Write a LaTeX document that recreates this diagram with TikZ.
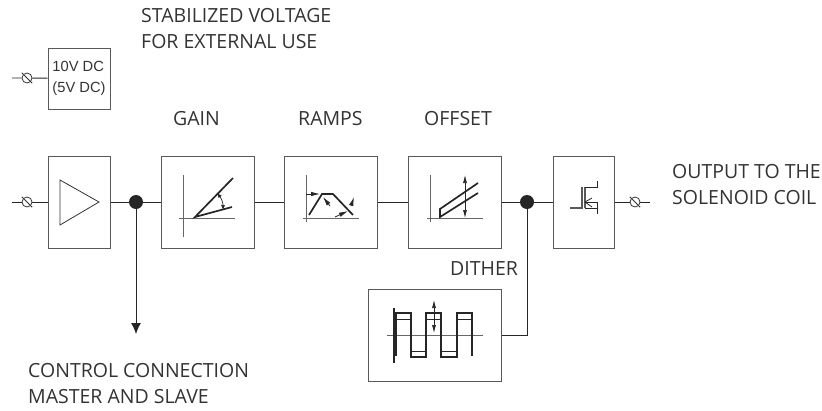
\documentclass[tikz,border=0pt]{standalone}
\usepackage{fontspec}
\setmainfont{Open Sans}
\newfontfamily\boxfont{Liberation Sans}
\usetikzlibrary{arrows.meta}
\definecolor{boxgray}{gray}{0.35}
\definecolor{textgray}{gray}{0.2}
\tikzset{
  blockbox/.style={draw=boxgray,line width=1pt,inner sep=0pt},
  junction/.style={circle,fill=black!85,inner sep=0pt,minimum size=14pt},
  terminal/.style={circle,draw=black!80,line width=0.8pt,inner sep=0pt,minimum size=10pt},
  label/.style={anchor=west,inner sep=0pt,text=textgray,font=\fontsize{19.5}{26}\selectfont,align=left},
  wire/.style={draw=black!85,line width=0.9pt},
  trace/.style={black!85,line width=1.7pt},
  axisline/.style={black!60,line width=0.9pt},
  updown/.style={black!85,line width=0.7pt,{Latex[length=8pt,width=4pt]}-{Latex[length=8pt,width=4pt]}},
  tick/.style={black!85,line width=0.8pt,-{Latex[length=9pt,width=4.5pt]}}
}
\begin{document}
\begin{tikzpicture}[x=1pt,y=-1pt]
    \useasboundingbox (0,0) rectangle (822,410);
    % blocks
    \node[blockbox,minimum width=62pt,minimum height=61pt,font=\boxfont\fontsize{14.7}{21}\selectfont,align=left,text=textgray] (supply) at (79,78.5) {10V DC\\(5V DC)};
    \node[blockbox,minimum width=62pt,minimum height=92pt] (amp) at (79,202) {};
    \node[blockbox,minimum width=93pt,minimum height=92pt] (gain) at (207.5,202) {};
    \node[blockbox,minimum width=93pt,minimum height=92pt] (ramps) at (330.5,202) {};
    \node[blockbox,minimum width=93pt,minimum height=92pt] (offset) at (454.5,202) {};
    \node[blockbox,minimum width=61pt,minimum height=92pt] (driver) at (583.5,202) {};
    \node[blockbox,minimum width=133pt,minimum height=92pt] (dither) at (434.5,335) {};
    % junctions and terminals
    \node[junction] (splitin) at (136,202) {};
    \node[junction] (splitout) at (527,202) {};
    \node[terminal] (termsupply) at (27,78) {};
    \node[terminal] (termin) at (27,202) {};
    \node[terminal] (termout) at (635,202) {};
    \coordinate (endsupply) at (12,78);
    \coordinate (endin) at (12,202);
    \coordinate (endout) at (650,202);
    \coordinate (master) at (136,334);
    \coordinate (bend) at (527,335);
    % wires
    \draw[wire] (endsupply) -- (termsupply) -- (supply);
    \draw[wire] (endin) -- (termin) -- (amp);
    \draw[wire] (amp) -- (splitin) -- (gain) -- (ramps) -- (offset) -- (splitout) -- (driver) -- (termout) -- (endout);
    \draw[wire,-{Latex[length=11pt,width=10pt]}] (splitin) -- (master);
    \draw[wire] (splitout) -- (bend) -- (dither);
    \foreach \t in {termsupply,termin,termout}
      \draw[black!80,line width=0.8pt,shorten >=-2pt,shorten <=-2pt] (\t.north west) -- (\t.south east);
    % amplifier
    \draw[black!80,line width=0.8pt] (60,180) -- (99,202) -- (60,225) -- cycle;
    % gain
    \draw[axisline] (183,175) -- (183,237) (179,218) -- (235,218);
    \draw[trace] (233,178) -- (195,217) -- (232,207);
    \draw[black!85,line width=0.7pt,{Latex[length=5pt,width=4pt]}-{Latex[length=5pt,width=4pt]}] (217,193) to[bend left=20] (223,210);
    % ramps
    \draw[axisline] (306,175) -- (306,222) (303,218) -- (359,218);
    \draw[trace] (309,215) -- (322,194) -- (333,194) -- (353,215);
    \draw[tick] (306,194) -- (320,194);
    \draw[tick] (330,206) -- (323,197);
    \draw[tick] (335,217) -- (348,211);
    \draw[tick] (351,206) -- (354,197);
    % offset
    \draw[axisline] (430,175) -- (430,222) (427,218) -- (483,218);
    \draw[trace] (478,193) -- (440,217) -- (440,209) -- (478,183);
    \draw[updown] (465,175) -- (465,218);
    % driver
    \draw[boxgray,line width=1.1pt] (570,208) -- (582,208) -- (582,187) (585,187) -- (585,208);
    \draw[black!85,line width=0.9pt] (585,187) -- (597,187) -- (597,181);
    \draw[black!85,line width=0.9pt] (585,208) -- (597,208) -- (597,214) (597,208) -- (597,202) -- (585,202);
    \draw[black!85,line width=0.8pt] (592,198) -- (585,202) -- (592,207);
    % dither
    \draw[axisline] (387,335) -- (483,335);
    \draw[trace] (394,308) -- (394,363);
    \draw[trace] (396,356) -- (396,313) -- (411,313) -- (411,357) -- (426,357) -- (426,313) -- (441,313) -- (441,357) -- (457,357) -- (457,313) -- (472,313) -- (472,356);
    \draw[black!85,line width=1pt] (396,319) -- (411,319) (426,319) -- (441,319) (457,319) -- (472,319) (411,351) -- (426,351) (441,351) -- (457,351);
    \draw[updown] (434,300) -- (434,333);
    % labels
    \node[label] (stabilized) at (141,28.5) {STABILIZED VOLTAGE\\FOR EXTERNAL USE};
    \node[label] (gainlabel) at (173,118.5) {GAIN};
    \node[label] (rampslabel) at (298,118.5) {RAMPS};
    \node[label] (offsetlabel) at (424,118.5) {OFFSET};
    \node[label] (outputlabel) at (672,185) {OUTPUT TO THE\\SOLENOID COIL};
    \node[label] (ditherlabel) at (450,269) {DITHER};
    \node[label] (controllabel) at (28,383.5) {CONTROL CONNECTION\\MASTER AND SLAVE};
\end{tikzpicture}
\end{document}
